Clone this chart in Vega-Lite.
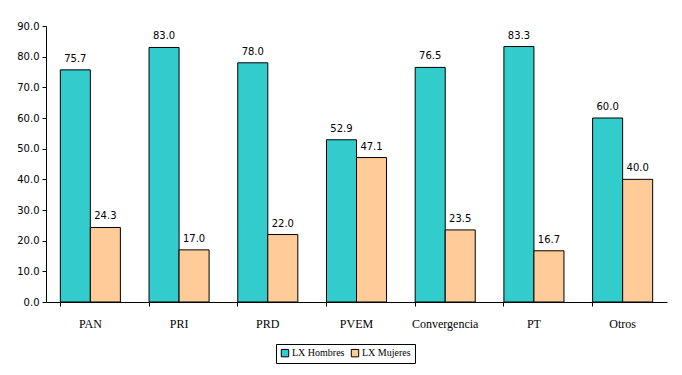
{
  "$schema": "https://vega.github.io/schema/vega-lite/v6.json",
  "width": 621,
  "height": 276,
  "autosize": {"type": "none"},
  "padding": {"left": 46, "top": 26, "right": 15, "bottom": 73},
  "background": "white",
  "config": {
    "view": {"stroke": null},
    "axis": {"grid": false, "domainColor": "black", "tickColor": "black", "labelColor": "black"}
  },
  "data": {
    "values": [
      {"partido": "PAN", "serie": "LX Hombres", "valor": 75.7},
      {"partido": "PAN", "serie": "LX Mujeres", "valor": 24.3},
      {"partido": "PRI", "serie": "LX Hombres", "valor": 83.0},
      {"partido": "PRI", "serie": "LX Mujeres", "valor": 17.0},
      {"partido": "PRD", "serie": "LX Hombres", "valor": 78.0},
      {"partido": "PRD", "serie": "LX Mujeres", "valor": 22.0},
      {"partido": "PVEM", "serie": "LX Hombres", "valor": 52.9},
      {"partido": "PVEM", "serie": "LX Mujeres", "valor": 47.1},
      {"partido": "Convergencia", "serie": "LX Hombres", "valor": 76.5},
      {"partido": "Convergencia", "serie": "LX Mujeres", "valor": 23.5},
      {"partido": "PT", "serie": "LX Hombres", "valor": 83.3},
      {"partido": "PT", "serie": "LX Mujeres", "valor": 16.7},
      {"partido": "Otros", "serie": "LX Hombres", "valor": 60.0},
      {"partido": "Otros", "serie": "LX Mujeres", "valor": 40.0}
    ]
  },
  "encoding": {
    "x": {
      "field": "partido", "type": "nominal", "sort": null, "title": null,
      "scale": {"paddingInner": 0.323, "paddingOuter": 0.1615},
      "axis": {"labelAngle": 0, "bandPosition": 0, "labelFont": "Liberation Serif", "labelFontSize": 12, "labelPadding": 12, "tickSize": 4}
    },
    "xOffset": {"field": "serie", "type": "nominal"},
    "y": {
      "field": "valor", "type": "quantitative", "title": null,
      "scale": {"domain": [0, 90]},
      "axis": {"values": [0,10,20,30,40,50,60,70,80,90], "format": ".1f", "labelFont": "DejaVu Sans", "labelFontSize": 10, "tickSize": 4, "labelPadding": 3}
    }
  },
  "layer": [
    {
      "mark": {"type": "bar", "stroke": "black", "strokeWidth": 1},
      "encoding": {
        "color": {
          "field": "serie", "type": "nominal", "title": null,
          "scale": {"domain": ["LX Hombres", "LX Mujeres"], "range": ["#33CCCC", "#FFCC99"]},
          "legend": {
            "orient": "none", "legendX": 230, "legendY": 318, "direction": "horizontal", "symbolType": "square",
            "symbolStrokeColor": "black", "symbolStrokeWidth": 1, "symbolSize": 55,
            "labelFont": "Liberation Serif", "labelFontSize": 10, "labelColor": "black",
            "strokeColor": "black", "padding": 4, "columnPadding": 4, "symbolOpacity": 1, "labelOffset": 2
          }
        }
      }
    },
    {
      "mark": {"type": "text", "dy": -6, "font": "DejaVu Sans", "fontSize": 10, "color": "black", "baseline": "bottom"},
      "encoding": {
        "text": {"field": "valor", "type": "quantitative", "format": ".1f"}
      }
    }
  ]
}
